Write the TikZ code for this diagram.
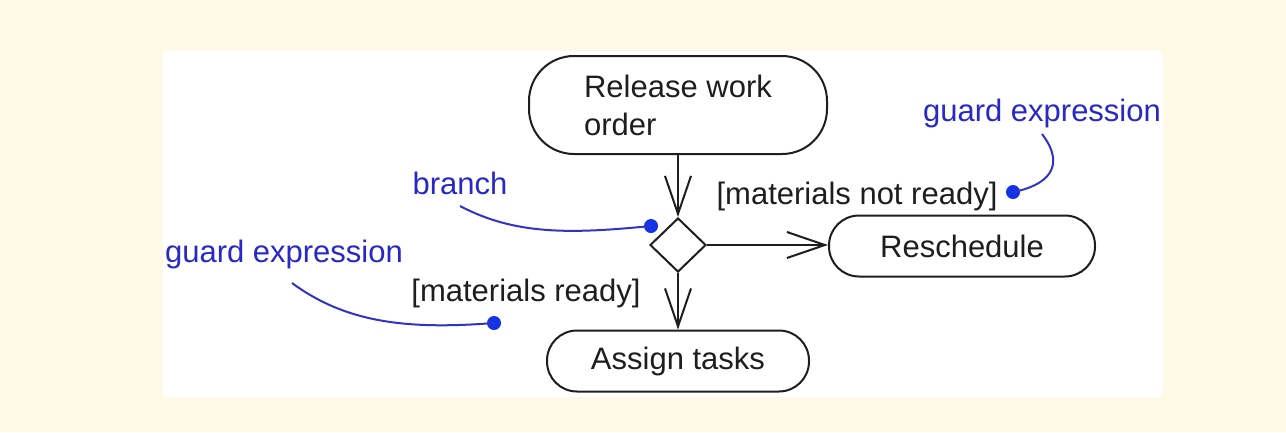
\documentclass[tikz,border=0pt]{standalone}
\usepackage{fontspec}
\setmainfont{Liberation Sans}
\usetikzlibrary{shapes.geometric,arrows.meta}
\definecolor{cream}{RGB}{255,249,229}
\definecolor{notetext}{RGB}{40,40,200}
\definecolor{noteline}{RGB}{50,50,200}
\definecolor{notedot}{RGB}{20,50,230}
\definecolor{ink}{RGB}{30,30,30}
\tikzset{
  activity/.style={draw=ink, line width=2pt, rounded corners=30pt, inner sep=0pt,
    font=\fontsize{31}{38}\selectfont, text=ink},
  decision/.style={draw=ink, line width=2pt, diamond, inner sep=0pt,
    minimum width=56pt, minimum height=54pt},
  flow/.style={draw=ink, line width=2pt, -{Straight Barb[length=38pt,width=26pt,line width=2pt]}},
  guard/.style={font=\fontsize{31}{36}\selectfont, text=ink, inner sep=0pt},
  note/.style={font=\fontsize{31}{36}\selectfont, text=notetext, inner sep=0pt},
  leader/.style={draw=noteline, line width=2pt},
  notedotstyle/.style={circle, fill=notedot, inner sep=0pt, minimum size=14pt},
}
\begin{document}
\begin{tikzpicture}[x=1pt,y=-1pt]
\useasboundingbox (0,0) rectangle (1286,432);
\fill[cream] (0,0) rectangle (1286,432);
\fill[white] (163,51) rectangle (1163,397);

\node[activity, rounded corners=45pt, minimum width=298pt, minimum height=98pt, align=left] (rwo) at (678,105) {Release work\\order};
\node[decision] (dia) at (678,245) {};
\node[activity, minimum width=266pt, minimum height=61pt] (resched) at (962,246) {Reschedule};
\node[activity, minimum width=262pt, minimum height=61pt] (assign) at (678,361) {Assign tasks};

\draw[flow] (rwo.south) -- (dia.north);
\draw[flow] (dia.east) -- (dia.east -| resched.west);
\draw[flow] (dia.south) -- (assign.north);

\node[guard] (gnr) at (857,196) {[materials not ready]};
\node[guard] (gr) at (526,293) {[materials ready]};

\node[note] (branch) at (460,183) {branch};
\node[note] (gtop) at (1042,113) {guard expression};
\node[note] (gleft) at (284,254) {guard expression};

\node[notedotstyle] (d1) at (651,226) {};
\node[notedotstyle] (d2) at (1013,192) {};
\node[notedotstyle] (d3) at (494,323) {};

\coordinate (b0) at (460,206);
\coordinate (t0) at (1042,134);
\coordinate (l0) at (292,283);

\draw[leader] (b0) .. controls (515,235) and (570,234) .. (d1.center);
\draw[leader] (t0) .. controls (1068,168) and (1045,186) .. (d2.center);
\draw[leader] (l0) .. controls (345,322) and (405,330) .. (d3.center);
\end{tikzpicture}
\end{document}
